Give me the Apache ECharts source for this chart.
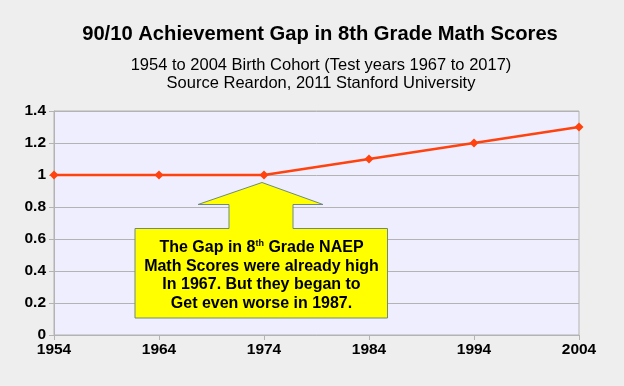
<!DOCTYPE html>
<html><head><meta charset="utf-8">
<script src="https://cdn.jsdelivr.net/npm/echarts@6/dist/echarts.min.js"></script>
<style>html,body{margin:0;padding:0;background:#eeeeee}#c{width:624px;height:386px}</style>
</head><body><div id="c"></div>
<script>
var years = ['1954','1964','1974','1984','1994','2004'];
var gapValues = [1, 1, 1, 1.1, 1.2, 1.3];
var titleText = '90/10 Achievement Gap in 8th Grade Math Scores';
var subtitleLines = ['1954 to 2004 Birth Cohort (Test years 1967 to 2017)', 'Source Reardon, 2011 Stanford University'];

var chart = echarts.init(document.getElementById('c'), null, {renderer:'canvas'});
var F = '"Liberation Sans", Arial, sans-serif';
chart.setOption({
  backgroundColor: '#eeeeee',
  animation: false,
  grid: {left: 54, right: 45, top: 111, bottom: 51, show: true, backgroundColor: '#eeeefe', borderColor: '#b3b3b3', borderWidth: 1},
  xAxis: {
    type: 'category', data: years, boundaryGap: false,
    axisLine: {lineStyle: {color: '#b3b3b3'}},
    axisTick: {show: true, length: 5, lineStyle: {color: '#b3b3b3'}},
    axisLabel: {fontFamily: F, fontSize: 15.5, fontWeight: 'bold', color: '#000', margin: 7},
    splitLine: {show: false}
  },
  yAxis: {
    type: 'value', min: 0, max: 1.4, interval: 0.2,
    axisLine: {show: true, lineStyle: {color: '#b3b3b3'}},
    axisTick: {show: true, length: 5, lineStyle: {color: '#b3b3b3'}},
    axisLabel: {fontFamily: F, fontSize: 15.5, fontWeight: 'bold', color: '#000', margin: 8,
      formatter: function(v){ return String(Math.round(v*10)/10); }},
    splitLine: {lineStyle: {color: '#b3b3b3'}}
  },
  series: [{
    type: 'line', data: gapValues,
    symbol: 'diamond', symbolSize: 9,
    lineStyle: {color: '#ff420e', width: 2.5},
    itemStyle: {color: '#ff420e'}
  }],
  graphic: [{
    type: 'text', x: 320, y: 34.5, z: 100,
    style: {text: titleText, align: 'center', verticalAlign: 'middle',
      font: 'bold 20.2px "Liberation Sans", Arial, sans-serif', fill: '#000'}
  },{
    type: 'text', x: 321, y: 65.5, z: 100,
    style: {text: subtitleLines[0], align: 'center', verticalAlign: 'middle',
      font: '16.5px "Liberation Sans", Arial, sans-serif', fill: '#000'}
  },{
    type: 'text', x: 321, y: 83.3, z: 100,
    style: {text: subtitleLines[1], align: 'center', verticalAlign: 'middle',
      font: '16.5px "Liberation Sans", Arial, sans-serif', fill: '#000'}
  },{
    type: 'polygon', z: 100,
    shape: {points: [[262,182.5],[323,204.5],[293,204.5],[293,228.5],[387.5,228.5],[387.5,318],[135,318],[135,228.5],[229,228.5],[229,204.5],[198,204.5]]},
    style: {fill: '#ffff00', stroke: '#6f8a7c', lineWidth: 1}
  },{
    type: 'text', x: 261.5, y: 275.5, z: 101,
    style: {
      text: '{a|The Gap in 8}{s|th}{a| Grade NAEP}\n{a|Math Scores were already high}\n{a|In 1967. But they began to}\n{a|Get even worse in 1987.}',
      align: 'center', verticalAlign: 'middle',
      rich: {
        a: {fontFamily: F, fontSize: 16, fontWeight: 'bold', fill: '#000', lineHeight: 18.4},
        s: {fontFamily: F, fontSize: 9, fontWeight: 'bold', fill: '#000', lineHeight: 18.4, verticalAlign: 'top', padding:[0,0,6,0]}
      }
    }
  }]
});
</script></body></html>
